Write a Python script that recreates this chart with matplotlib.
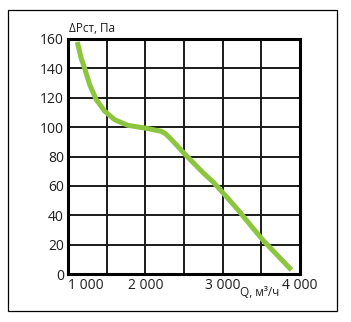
import matplotlib
matplotlib.use("Agg")
import matplotlib.pyplot as plt
from matplotlib.patches import Rectangle

# значения
q = [1120, 1170, 1215, 1280, 1365, 1475, 1605, 1775, 1990, 2205, 2260, 2320, 2400, 2500, 2750, 2880, 3000, 3200, 3270, 3520, 3890]
dp = [158, 147, 140, 129, 118.7, 110.8, 105, 101.2, 99.4, 97.2, 95.5, 92.5, 88, 82.2, 68.8, 62.5, 55.5, 43.6, 39, 23.1, 2.7]

xticks = [1000, 2000, 3000, 4000]
xlabels = ["1 000", "2 000", "3 000", "4 000"]
yticks = [0, 20, 40, 60, 80, 100, 120, 140, 160]
xgrid = [1500, 2000, 2500, 3000, 3500]

plt.rcParams['font.family'] = ['Open Sans', 'DejaVu Sans']

fig = plt.figure(figsize=(3.51, 3.22), dpi=100)
fig.patches.append(Rectangle((8/351, 1-311/322), 329/351, 301/322, transform=fig.transFigure,
                             fill=False, edgecolor="black", linewidth=0.9))

ax = fig.add_axes([68/351, 1-274/322, 232/351, 235/322])
ax.set_xlim(1000, 4000)
ax.set_ylim(0, 160)

for xg in xgrid:
    ax.axvline(xg, color="#1a1a1a", linewidth=1.4, zorder=1)
for yg in yticks[1:-1]:
    ax.axhline(yg, color="#1a1a1a", linewidth=1.4, zorder=1)

ax.plot(q, dp, color="#8cc63f", linewidth=3.6, solid_capstyle="butt",
        solid_joinstyle="round", zorder=3)

for s in ax.spines.values():
    s.set_linewidth(2.2)
    s.set_color("black")

ax.set_yticks(yticks)
ax.set_yticklabels([str(v) for v in yticks])
ax.set_xticks(xticks)
ax.set_xticklabels(xlabels)
ax.tick_params(length=0, labelsize=10, colors="#1e1e1e", pad=3)
ax.get_xticklabels()[0].set_horizontalalignment("left")

fig.text(69/351, 1-29/322, "ΔPст, Па", fontsize=8.5, color="#1e1e1e", va="center", ha="left")
fig.text(240/351, 1-293/322, "Q, м³/ч", fontsize=8.5, color="#1e1e1e", va="center", ha="left")

fig.savefig("out.png", dpi=100)
